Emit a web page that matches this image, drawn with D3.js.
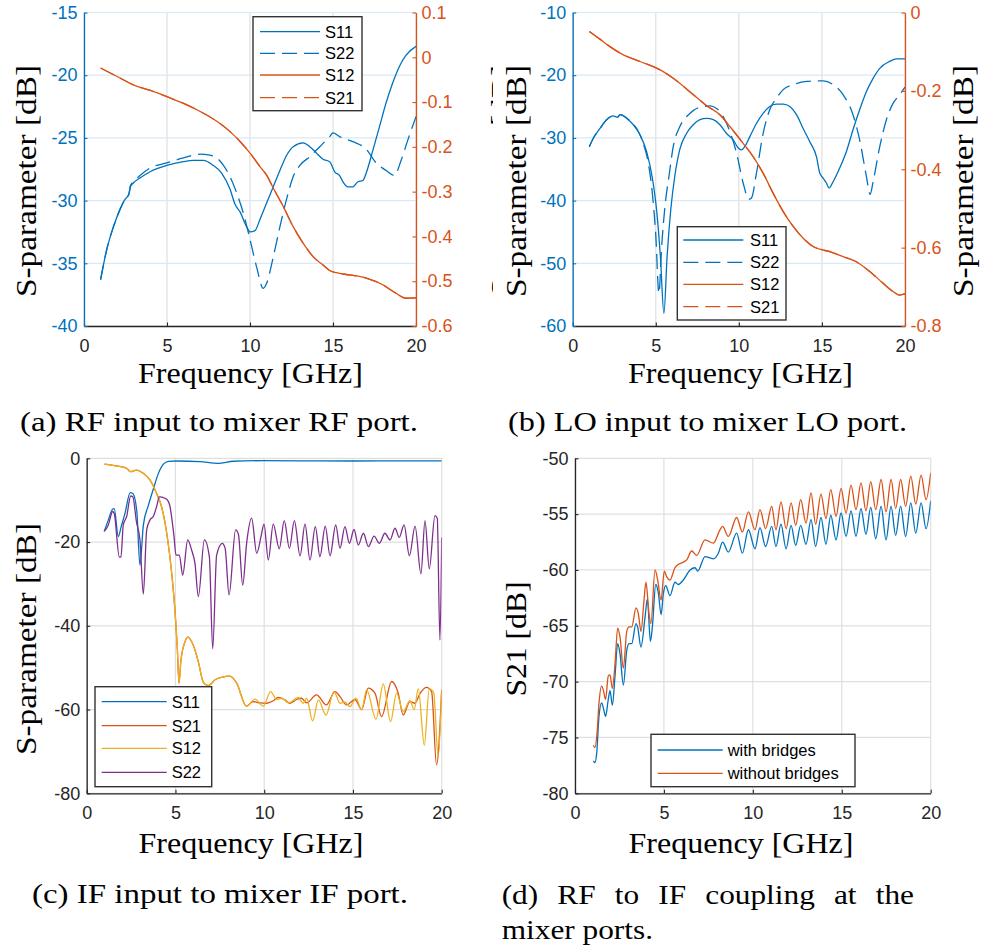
<!DOCTYPE html>
<html>
<head>
<meta charset="utf-8">
<script src="https://cdn.jsdelivr.net/npm/d3@7"></script>
<style>
  body { margin: 0; background: #fff; }
  svg { display: block; }
</style>
</head>
<body>
<svg id="fig" width="983" height="947"></svg>
<script>
// ---------- tick values ----------
const xTicks = [0, 5, 10, 15, 20];
const aLeftTicks = [-40, -35, -30, -25, -20, -15];
const aRightTicks = [-0.6, -0.5, -0.4, -0.3, -0.2, -0.1, 0, 0.1];
const bLeftTicks = [-60, -50, -40, -30, -20, -10];
const bRightTicks = [-0.8, -0.6, -0.4, -0.2, 0];
const cTicks = [-80, -60, -40, -20, 0];
const dTicks = [-80, -75, -70, -65, -60, -55, -50];

// ---------- (a) RF input to mixer RF port: [GHz, dB] ----------
const aS11 = [[1,-36.3],[1.37,-33.9],[1.77,-32.1],[2.17,-30.7],[2.47,-29.9],[2.7,-29.5],[2.8,-28.9],[2.97,-28.6],[3.37,-28.2],[3.98,-27.7],[4.98,-27.2],[5.98,-26.9],[6.59,-26.8],[7.19,-26.8],[7.79,-27.2],[8.29,-27.8],[8.8,-29.1],[9.1,-30.3],[9.4,-30.9],[9.8,-32.1],[10.0,-32.5],[10.3,-32.4],[10.6,-31.5],[11.0,-30.2],[11.4,-28.9],[11.8,-27.6],[12.2,-26.4],[12.6,-25.7],[13.2,-25.4],[13.6,-25.7],[14.0,-26.2],[14.4,-26.7],[14.8,-26.9],[15.1,-27.7],[15.4,-28.0],[15.6,-28.5],[15.9,-28.9],[16.2,-28.9],[16.5,-28.5],[16.8,-28.4],[17.0,-27.8],[17.4,-26.0],[17.8,-24.1],[18.2,-22.2],[18.6,-20.6],[19.0,-19.3],[19.4,-18.4],[20.0,-17.7]];
const aS22 = [[1,-36.3],[1.37,-33.9],[1.77,-32.1],[2.17,-30.7],[2.47,-29.9],[2.7,-29.5],[2.8,-28.8],[2.97,-28.5],[3.37,-28.0],[3.98,-27.4],[4.98,-27.0],[5.98,-26.6],[6.99,-26.3],[7.5,-26.35],[8.0,-26.6],[8.4,-27.2],[8.8,-28.1],[9.2,-29.4],[9.6,-31.0],[10.0,-33.1],[10.4,-35.3],[10.8,-37.0],[11.0,-36.6],[11.4,-34.5],[11.8,-32.1],[12.2,-29.9],[12.6,-28.1],[13.0,-27.2],[13.6,-26.5],[14.2,-25.7],[14.8,-24.9],[15.0,-24.6],[15.4,-24.9],[16.2,-25.3],[17.0,-25.9],[17.6,-27.0],[18.2,-27.6],[18.7,-28.0],[19.1,-26.8],[19.5,-25.2],[20.0,-23.3]];
const aS12 = [[1,-0.024],[2,-0.043],[3,-0.062],[4,-0.074],[5,-0.088],[6,-0.103],[7,-0.121],[8,-0.143],[8.8,-0.166],[9.4,-0.188],[10.0,-0.214],[10.6,-0.244],[11.0,-0.263],[11.4,-0.292],[12.0,-0.333],[12.6,-0.378],[13.2,-0.415],[13.8,-0.445],[14.4,-0.464],[14.8,-0.476],[15.2,-0.481],[16.0,-0.486],[17.0,-0.493],[18.0,-0.508],[18.8,-0.527],[19.4,-0.538],[20,-0.537]];
const aS21 = [[1,-0.024],[2,-0.043],[3,-0.062],[4,-0.074],[5,-0.088],[6,-0.103],[7,-0.121],[8,-0.143],[8.8,-0.166],[9.4,-0.188],[10.0,-0.214],[10.6,-0.244],[11.0,-0.263],[11.4,-0.292],[12.0,-0.333],[12.6,-0.378],[13.2,-0.415],[13.8,-0.445],[14.4,-0.464],[14.8,-0.476],[15.2,-0.481],[16.0,-0.486],[17.0,-0.493],[18.0,-0.508],[18.8,-0.527],[19.4,-0.538],[20,-0.537]];

// ---------- (b) LO input to mixer LO port ----------
const bS11 = [[1,-31.4],[1.24,-30.05],[1.64,-28.5],[2.04,-27.1],[2.44,-26.5],[2.7,-26.7],[2.85,-26.3],[3.25,-26.9],[3.65,-27.9],[4.05,-29.5],[4.45,-32.2],[4.8,-36.5],[5.05,-41.5],[5.28,-49.0],[5.49,-58.0],[5.68,-49.0],[5.9,-41.5],[6.15,-36.0],[6.45,-31.8],[6.85,-29.3],[7.25,-27.9],[7.66,-27.1],[8.06,-26.9],[8.46,-27.1],[8.86,-27.9],[9.26,-29.3],[9.66,-30.3],[9.96,-31.6],[10.16,-31.9],[10.36,-31.4],[10.66,-29.8],[11.06,-27.7],[11.46,-26.1],[11.86,-25.0],[12.26,-24.6],[12.67,-24.6],[13.07,-25.0],[13.47,-26.3],[13.87,-28.5],[14.27,-30.6],[14.67,-33.0],[14.87,-35.6],[15.07,-36.4],[15.27,-37.2],[15.43,-38.0],[15.67,-37.0],[16.07,-34.8],[16.47,-32.2],[16.87,-28.7],[17.27,-25.5],[17.68,-22.6],[18.08,-20.5],[18.48,-18.9],[19.08,-17.8],[19.48,-17.4],[20,-17.4]];
const bS22 = [[1,-31.4],[1.24,-30.05],[1.64,-28.5],[2.04,-27.1],[2.44,-26.5],[2.7,-26.7],[2.85,-26.3],[3.45,-27.3],[3.85,-28.5],[4.25,-30.9],[4.55,-34.0],[4.8,-39.0],[5.0,-45.5],[5.19,-54.8],[5.35,-47.5],[5.55,-41.0],[5.8,-36.0],[6.05,-31.4],[6.45,-28.2],[7.05,-26.1],[7.66,-25.1],[8.26,-24.9],[8.66,-25.3],[9.06,-26.6],[9.46,-29.0],[9.86,-32.4],[10.26,-37.2],[10.6,-39.8],[10.76,-39.6],[11.06,-35.6],[11.46,-29.3],[11.86,-25.5],[12.26,-23.7],[12.67,-22.3],[13.27,-21.5],[14.07,-21.0],[15.07,-20.9],[15.67,-21.5],[16.27,-23.1],[16.87,-26.3],[17.27,-30.3],[17.68,-36.2],[17.9,-39.0],[18.08,-37.0],[18.48,-31.4],[18.88,-27.1],[19.28,-24.5],[19.68,-23.1],[20,-21.9]];
const bS12 = [[1,-0.0485],[1.64,-0.068],[2.24,-0.087],[3.05,-0.108],[4.05,-0.125],[5.05,-0.142],[5.45,-0.151],[6.05,-0.168],[7.05,-0.202],[8.06,-0.238],[8.86,-0.261],[9.46,-0.291],[10.26,-0.334],[10.86,-0.368],[11.46,-0.410],[12.06,-0.461],[12.67,-0.508],[13.27,-0.546],[13.87,-0.576],[14.47,-0.597],[14.87,-0.604],[15.47,-0.610],[16.27,-0.623],[17.07,-0.636],[17.88,-0.661],[18.68,-0.691],[19.28,-0.712],[19.68,-0.721],[20,-0.718]];
const bS21 = [[1,-0.0485],[1.64,-0.068],[2.24,-0.087],[3.05,-0.108],[4.05,-0.125],[5.05,-0.142],[5.45,-0.151],[6.05,-0.168],[7.05,-0.202],[8.06,-0.238],[8.86,-0.261],[9.46,-0.291],[10.26,-0.334],[10.86,-0.368],[11.46,-0.410],[12.06,-0.461],[12.67,-0.508],[13.27,-0.546],[13.87,-0.576],[14.47,-0.597],[14.87,-0.604],[15.47,-0.610],[16.27,-0.623],[17.07,-0.636],[17.88,-0.661],[18.68,-0.691],[19.28,-0.712],[19.68,-0.721],[20,-0.718]];

// ---------- (c) IF input to mixer IF port ----------
const cS11 = [[1,-17.3],[1.22,-14.7],[1.45,-12.2],[1.55,-12.0],[1.78,-18.7],[1.95,-16.2],[2.16,-13.1],[2.45,-8.2],[2.6,-8.4],[2.82,-12.5],[3.0,-25.5],[3.19,-16.0],[3.47,-11.3],[3.75,-7.4],[4.04,-3.6],[4.32,-1.4],[4.6,-0.75],[5.07,-0.65],[6.38,-0.8],[7.4,-1.2],[8.26,-0.7],[9.95,-0.57],[12,-0.6],[15,-0.65],[18,-0.6],[20,-0.6]];
const cS21 = [[1,-1.4],[1.69,-1.84],[2.25,-2.4],[2.48,-3.2],[2.8,-2.8],[3.19,-3.6],[3.57,-5.2],[3.94,-8.4],[4.22,-11.6],[4.51,-17.9],[4.79,-27.5],[4.97,-36.2],[5.11,-45.8],[5.2,-53.7],[5.31,-48.2],[5.54,-43.8],[5.7,-42.7],[6.0,-44.6],[6.29,-48.6],[6.57,-53.5],[6.85,-54.3],[7.23,-52.9],[7.6,-52.3],[8.07,-52.0],[8.45,-53.7],[9.0,-59.2],[9.38,-58.1],[9.76,-58.4],[10.14,-58.5],[10.51,-57.9],[10.79,-57.1],[11.17,-57.7],[11.45,-58.5],[11.83,-57.6],[12.11,-57.3],[12.39,-58.4],[12.95,-56.5],[13.5,-58.9],[13.99,-55.7],[14.27,-56.9],[14.64,-58.9],[15.11,-57.6],[15.49,-60.0],[15.86,-54.9],[16.24,-56.1],[16.61,-61.7],[17.18,-53.3],[17.55,-56.1],[17.83,-61.3],[18.21,-58.1],[18.49,-58.5],[18.8,-56.0],[19.15,-54.7],[19.43,-55.7],[19.71,-73.2],[20.0,-55.3]];
const cS12 = [[1,-1.4],[1.69,-1.84],[2.25,-2.4],[2.48,-3.2],[2.8,-2.8],[3.19,-3.6],[3.57,-5.2],[3.94,-8.4],[4.22,-11.6],[4.51,-17.9],[4.79,-27.5],[4.97,-36.2],[5.11,-45.8],[5.2,-53.7],[5.31,-48.2],[5.54,-43.8],[5.7,-42.7],[6.0,-44.6],[6.29,-48.6],[6.57,-53.5],[6.85,-54.3],[7.23,-52.9],[7.6,-52.3],[8.07,-52.0],[8.45,-53.7],[9.0,-59.2],[9.48,-57.5],[9.95,-59.2],[10.36,-55.7],[10.7,-57.6],[11.0,-57.3],[11.36,-58.4],[11.92,-57.1],[12.2,-58.5],[12.39,-57.3],[12.73,-62.7],[13.05,-57.7],[13.48,-61.3],[13.93,-55.7],[14.27,-58.5],[14.55,-58.2],[14.83,-59.3],[15.17,-57.3],[15.49,-60.1],[15.77,-55.3],[16.3,-62.3],[16.71,-53.9],[17.12,-62.9],[17.46,-56.1],[17.83,-60.5],[18.21,-57.9],[18.45,-60.0],[18.68,-55.0],[19.02,-68.5],[19.3,-55.0],[19.55,-56.0],[19.8,-71.3],[20,-55.3]];
const cS22 = [[0.97,-17.5],[1.22,-15.9],[1.46,-12.7],[1.55,-13.2],[1.84,-23.6],[1.93,-23.6],[2.06,-15.9],[2.25,-13.9],[2.48,-9.0],[2.6,-9.2],[2.8,-15.1],[3.0,-19.5],[3.19,-32.4],[3.38,-17.1],[3.57,-14.7],[3.75,-13.9],[3.94,-11.5],[4.09,-9.2],[4.25,-9.3],[4.51,-9.8],[4.69,-11.5],[4.92,-18.7],[5.03,-23.1],[5.22,-23.1],[5.41,-27.9],[5.69,-19.5],[5.91,-21.9],[6.1,-25.1],[6.29,-33.0],[6.63,-19.5],[6.91,-23.5],[7.1,-45.5],[7.32,-23.1],[7.64,-20.3],[7.8,-21.5],[8.02,-32.6],[8.39,-17.1],[8.55,-18.2],[8.79,-30.3],[9.01,-20.3],[9.29,-14.3],[9.58,-22.7],[9.82,-18.7],[9.99,-15.7],[10.23,-24.3],[10.51,-15.7],[10.85,-21.6],[11.13,-14.9],[11.42,-21.5],[11.7,-14.9],[12.02,-23.3],[12.3,-15.7],[12.58,-24.3],[12.88,-16.3],[13.14,-23.5],[13.44,-16.2],[13.71,-23.3],[14.03,-15.9],[14.27,-21.5],[14.55,-16.3],[14.8,-20.3],[15.06,-17.0],[15.3,-20.7],[15.59,-17.9],[15.87,-21.1],[16.19,-18.6],[16.49,-20.3],[16.8,-17.9],[17.09,-19.5],[17.37,-16.7],[17.61,-18.9],[17.88,-15.9],[18.18,-23.3],[18.5,-16.2],[18.83,-27.6],[19.06,-14.9],[19.3,-26.4],[19.62,-13.7],[19.75,-14.3],[19.9,-43.4],[20.0,-18.9]];

// ---------- (d) RF to IF coupling ----------
const dWith = [[1.03,-77.1],[1.12,-77.25],[1.22,-76.4],[1.35,-73.1],[1.5,-71.9],[1.6,-72.4],[1.72,-73.1],[1.87,-71.6],[1.97,-70.8],[2.1,-72.1],[2.25,-69.5],[2.4,-66.6],[2.53,-67.5],[2.72,-70.3],[2.91,-67.2],[3.04,-66.6],[3.19,-66.6],[3.43,-64.8],[3.52,-65.1],[3.71,-66.9],[3.94,-64.2],[4.07,-62.6],[4.24,-66.4],[4.35,-65.1],[4.54,-61.3],[4.69,-62.1],[4.84,-64.0],[4.97,-62.1],[5.1,-61.4],[5.34,-62.3],[5.62,-61.1],[5.81,-61.3],[6.09,-60.9],[6.47,-60.0],[6.75,-59.8],[6.9,-60.1],[7.31,-58.8],[7.78,-59.0],[8.06,-58.5],[8.3,-57.5],[8.62,-58.4],[9.09,-56.7],[9.41,-58.5],[9.75,-56.4],[10.12,-58.1],[10.4,-56.2],[10.72,-57.9],[11.06,-56.1],[11.3,-57.9],[11.58,-55.9],[11.87,-58.1],[12.15,-56.0],[12.41,-57.8],[12.69,-56.0],[12.99,-57.7],[13.27,-55.5],[13.53,-57.9],[13.83,-55.3],[14.11,-57.7],[14.38,-55.1],[14.68,-57.3],[14.96,-54.9],[15.24,-57.0],[15.52,-54.7],[15.8,-57.0],[16.08,-54.5],[16.36,-56.8],[16.63,-54.4],[16.91,-57.2],[17.21,-54.3],[17.49,-57.3],[17.77,-54.3],[18.03,-56.9],[18.31,-54.3],[18.59,-57.0],[18.88,-54.0],[19.16,-56.7],[19.46,-54.0],[19.74,-56.3],[20.0,-53.8]];
const dWithout = [[1.03,-75.7],[1.12,-75.9],[1.24,-74.6],[1.35,-71.9],[1.5,-70.4],[1.6,-70.8],[1.72,-71.6],[1.87,-69.5],[1.97,-69.4],[2.1,-70.6],[2.25,-68.4],[2.4,-65.2],[2.53,-66.0],[2.72,-68.8],[2.91,-65.5],[3.04,-65.1],[3.19,-65.1],[3.43,-63.4],[3.56,-63.9],[3.71,-65.5],[3.88,-62.7],[3.99,-61.1],[4.16,-63.9],[4.27,-64.8],[4.5,-60.0],[4.65,-60.9],[4.84,-62.7],[5.02,-60.1],[5.15,-60.6],[5.34,-60.9],[5.62,-59.8],[5.81,-59.5],[6.09,-59.3],[6.28,-59.1],[6.56,-58.3],[6.84,-58.7],[7.31,-57.3],[7.78,-57.6],[8.15,-56.4],[8.3,-56.1],[8.62,-57.0],[9.09,-55.3],[9.41,-56.6],[9.75,-54.8],[10.12,-56.4],[10.4,-54.6],[10.72,-56.3],[11.06,-54.3],[11.3,-56.4],[11.58,-53.9],[11.87,-56.3],[12.15,-54.0],[12.41,-56.0],[12.69,-53.7],[12.99,-55.8],[13.27,-53.1],[13.53,-55.9],[13.83,-53.2],[14.11,-55.4],[14.38,-52.8],[14.68,-55.2],[14.96,-52.7],[15.24,-54.9],[15.52,-52.4],[15.8,-54.6],[16.08,-52.2],[16.36,-54.7],[16.63,-52.1],[16.91,-54.6],[17.21,-51.9],[17.49,-54.8],[17.77,-51.9],[18.03,-54.5],[18.31,-51.9],[18.59,-54.3],[18.88,-51.6],[19.16,-54.1],[19.46,-51.5],[19.74,-53.7],[20.0,-51.3]];

// ---------- styling ----------
const BLUE = '#0072BD', ORANGE = '#D95319', YELLOW = '#EDB120', PURPLE = '#7E2F8E';
const AXC = '#262626';
const GRID = '#DFDFDF', GRID_BLUE = '#D9EAF5';
const SANS = '"Liberation Sans", Arial, Helvetica, sans-serif';
const SERIF = '"Liberation Serif", "Times New Roman", serif';
const DASH = '15,7';

const svg = d3.select('#fig');
svg.append('rect').attr('width', 983).attr('height', 947).attr('fill', '#fff');

let clipCount = 0;

function fmt(d) { return String(Math.round(d * 10) / 10); }

function rotLabel(g, text, bx, cy, len) {
  g.append('text')
    .attr('transform', `translate(${bx},${cy}) rotate(-90)`)
    .attr('text-anchor', 'middle')
    .attr('font-family', SERIF).attr('font-size', 30).attr('fill', '#000')
    .attr('textLength', len).attr('lengthAdjust', 'spacingAndGlyphs')
    .text(text);
}

function drawPanel(p) {
  const g = svg.append('g');
  if (p.bg) g.append('rect').attr('x', p.bg[0]).attr('y', p.bg[1])
    .attr('width', p.bg[2]).attr('height', p.bg[3]).attr('fill', '#fff');

  const x = d3.scaleLinear().domain([0, 20]).range([p.x0, p.x1]);
  const yL = d3.scaleLinear().domain(p.yDom).range([p.y1, p.y0]);
  const yR = p.yRDom ? d3.scaleLinear().domain(p.yRDom).range([p.y1, p.y0]) : null;

  // grid
  g.append('g').selectAll('line.vg').data(xTicks).join('line').attr('class', 'vg')
    .attr('x1', d => x(d)).attr('x2', d => x(d)).attr('y1', p.y0).attr('y2', p.y1)
    .attr('stroke', GRID).attr('stroke-width', 1.2);
  g.append('g').selectAll('line.hg').data(p.yTicks).join('line').attr('class', 'hg')
    .attr('x1', p.x0).attr('x2', p.x1).attr('y1', d => yL(d)).attr('y2', d => yL(d))
    .attr('stroke', p.hGrid || GRID).attr('stroke-width', 1.2);

  // data
  const cid = 'clip' + (clipCount++);
  g.append('clipPath').attr('id', cid).append('rect')
    .attr('x', p.x0).attr('y', p.y0 - 1).attr('width', p.x1 - p.x0).attr('height', p.y1 - p.y0 + 2);
  const lines = g.append('g').attr('clip-path', `url(#${cid})`);
  p.series.forEach(s => {
    const ys = s.right ? yR : yL;
    const line = d3.line().x(d => x(d[0])).y(d => ys(d[1])).curve(d3.curveMonotoneX);
    lines.append('path').datum(s.data).attr('d', line)
      .attr('fill', 'none').attr('stroke', s.color).attr('stroke-width', 1.3)
      .attr('stroke-dasharray', s.dash ? DASH : null)
      .attr('stroke-linejoin', 'round');
  });

  // axes
  const styleAxis = (sel, col) => {
    sel.attr('font-family', SANS).attr('font-size', 18);
    sel.select('.domain').attr('stroke', col).attr('stroke-width', 1.3);
    sel.selectAll('.tick line').attr('stroke', col).attr('stroke-width', 1.1);
    sel.selectAll('.tick text').attr('fill', col);
  };
  const gx = g.append('g').attr('transform', `translate(0,${p.y1})`)
    .call(d3.axisBottom(x).tickValues(xTicks).tickSizeInner(-3.5).tickSizeOuter(0)
      .tickPadding(13).tickFormat(d => String(d)));
  styleAxis(gx, AXC);
  const gl = g.append('g').attr('transform', `translate(${p.x0},0)`)
    .call(d3.axisLeft(yL).tickValues(p.yTicks).tickSizeInner(-3.5).tickSizeOuter(0)
      .tickPadding(6.5).tickFormat(fmt));
  styleAxis(gl, p.leftColor || AXC);
  if (yR) {
    const gr = g.append('g').attr('transform', `translate(${p.x1},0)`)
      .call(d3.axisRight(yR).tickValues(p.yRTicks).tickSizeInner(-3.5).tickSizeOuter(0)
        .tickPadding(5.5).tickFormat(fmt));
    styleAxis(gr, ORANGE);
  }

  // axis labels
  g.append('text').attr('x', p.xLab[0]).attr('y', p.xLab[1]).attr('text-anchor', 'middle')
    .attr('font-family', SERIF).attr('font-size', 30).attr('fill', '#000')
    .attr('textLength', 225).attr('lengthAdjust', 'spacingAndGlyphs')
    .text('Frequency [GHz]');
  rotLabel(g, p.yLab.text, p.yLab.bx, p.yLab.cy, p.yLab.len);
  if (p.yLabR) rotLabel(g, p.yLabR.text, p.yLabR.bx, p.yLabR.cy, p.yLabR.len);

  // legend
  const L = p.legend;
  const lg = g.append('g');
  lg.append('rect').attr('x', L.box[0]).attr('y', L.box[1]).attr('width', L.box[2]).attr('height', L.box[3])
    .attr('fill', '#fff').attr('stroke', '#333').attr('stroke-width', 1.4);
  L.items.forEach((it, i) => {
    const s = p.series[it];
    const yy = L.ys[i];
    lg.append('line').attr('x1', L.lx[0]).attr('x2', L.lx[1]).attr('y1', yy).attr('y2', yy)
      .attr('stroke', s.color).attr('stroke-width', 1.3)
      .attr('stroke-dasharray', s.dash ? DASH : null);
    lg.append('text').attr('x', L.tx).attr('y', yy).attr('dy', '0.36em')
      .attr('font-family', SANS).attr('font-size', 16.5).attr('fill', '#000').text(s.name);
  });
  return g;
}

function caption(text, x0, x1, yb) {
  svg.append('text').attr('x', x0).attr('y', yb)
    .attr('font-family', SERIF).attr('font-size', 27).attr('fill', '#000')
    .attr('textLength', x1 - x0).attr('lengthAdjust', 'spacingAndGlyphs')
    .text(text);
}

function justified(words, x0, x1, yb, stretch) {
  const nodes = words.map(w => svg.append('text').attr('y', yb)
    .attr('font-family', SERIF).attr('font-size', 27).attr('fill', '#000').text(w));
  const widths = nodes.map(n => n.node().getComputedTextLength() * stretch);
  const gap = words.length > 1 ? (x1 - x0 - d3.sum(widths)) / (words.length - 1) : 0;
  let cx = x0;
  nodes.forEach((n, i) => {
    n.attr('x', cx).attr('textLength', widths[i]).attr('lengthAdjust', 'spacingAndGlyphs');
    cx += widths[i] + gap;
  });
}

// ---------- (a) ----------
drawPanel({
  x0: 84, x1: 416, y0: 12.5, y1: 326,
  yDom: [-40, -15], yTicks: aLeftTicks, leftColor: BLUE, hGrid: GRID_BLUE,
  yRDom: [-0.6, 0.1], yRTicks: aRightTicks,
  series: [
    { name: 'S11', data: aS11, color: BLUE },
    { name: 'S22', data: aS22, color: BLUE, dash: true },
    { name: 'S12', data: aS12, color: ORANGE, right: true },
    { name: 'S21', data: aS21, color: ORANGE, dash: true, right: true }
  ],
  xLab: [250.5, 383],
  yLab: { text: 'S-parameter [dB]', bx: 36, cy: 181, len: 232 },
  yLabR: { text: 'S-parameter [dB]', bx: 511, cy: 181, len: 232 },
  legend: { box: [253, 16.7, 109, 94], items: [0, 1, 2, 3], ys: [31.7, 53.3, 75, 97.7], lx: [260, 320], tx: 325 }
});
caption('(a) RF input to mixer RF port.', 20, 418, 431);

// ---------- (b) ----------
drawPanel({
  bg: [493, 0, 490, 445],
  x0: 572.7, x1: 905, y0: 12.5, y1: 326,
  yDom: [-60, -10], yTicks: bLeftTicks, leftColor: BLUE, hGrid: GRID_BLUE,
  yRDom: [-0.8, 0], yRTicks: bRightTicks,
  series: [
    { name: 'S11', data: bS11, color: BLUE },
    { name: 'S22', data: bS22, color: BLUE, dash: true },
    { name: 'S12', data: bS12, color: ORANGE, right: true },
    { name: 'S21', data: bS21, color: ORANGE, dash: true, right: true }
  ],
  xLab: [740.5, 383],
  yLab: { text: 'S-parameter [dB]', bx: 526, cy: 181, len: 232 },
  yLabR: { text: 'S-parameter [dB]', bx: 973, cy: 181, len: 232 },
  legend: { box: [677.3, 226.7, 108.7, 93.3], items: [0, 1, 2, 3], ys: [240, 262.3, 284.3, 306.7], lx: [683.3, 743.3], tx: 750 }
});
caption('(b) LO input to mixer LO port.', 508, 907, 431);

// ---------- (c) ----------
drawPanel({
  x0: 86.7, x1: 441.7, y0: 458.3, y1: 793.3,
  yDom: [-80, 0], yTicks: cTicks,
  series: [
    { name: 'S11', data: cS11, color: BLUE },
    { name: 'S21', data: cS21, color: ORANGE },
    { name: 'S12', data: cS12, color: YELLOW },
    { name: 'S22', data: cS22, color: PURPLE }
  ],
  xLab: [251, 853],
  yLab: { text: 'S-parameter [dB]', bx: 36, cy: 639, len: 232 },
  legend: { box: [95, 686.7, 116.7, 100], items: [0, 1, 2, 3], ys: [701.7, 725.7, 748.3, 772.3], lx: [101.7, 166.7], tx: 171.7 }
});
caption('(c) IF input to mixer IF port.', 32, 408, 903);

// ---------- (d) ----------
drawPanel({
  x0: 575, x1: 930.7, y0: 458.3, y1: 793.3,
  yDom: [-80, -50], yTicks: dTicks,
  series: [
    { name: 'with bridges', data: dWith, color: BLUE },
    { name: 'without bridges', data: dWithout, color: ORANGE }
  ],
  xLab: [741, 853],
  yLab: { text: 'S21 [dB]', bx: 526, cy: 639, len: 115 },
  legend: { box: [651, 734.3, 204, 52.4], items: [0, 1], ys: [750, 773.3], lx: [657.7, 722.7], tx: 727.7 }
});
justified(['(d)', 'RF', 'to', 'IF', 'coupling', 'at', 'the'], 501.7, 914, 904, 1.16);
justified(['mixer', 'ports.'], 501.7, 653, 939, 1.16);
</script>
</body>
</html>
